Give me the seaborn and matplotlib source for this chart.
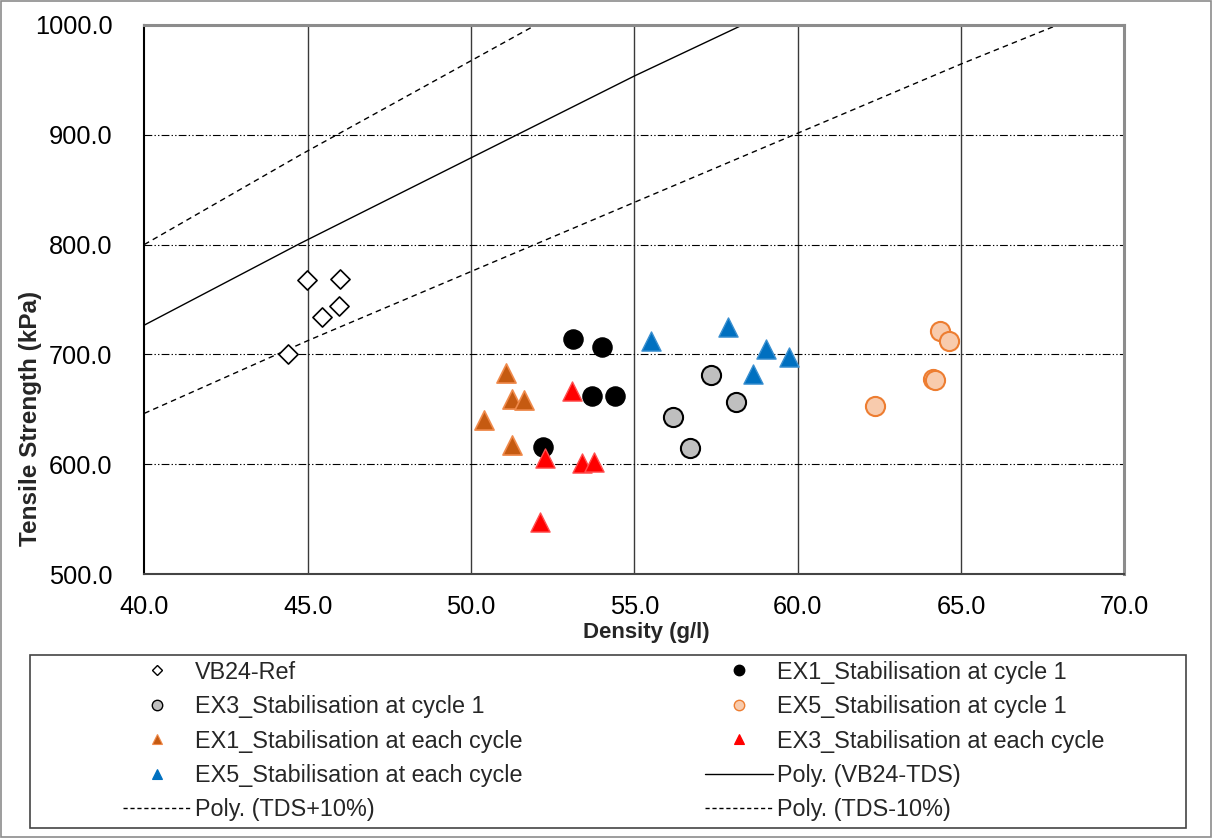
import numpy as np
import pandas as pd
import matplotlib
matplotlib.use("Agg")
import matplotlib.pyplot as plt
import seaborn as sns
from matplotlib.lines import Line2D
from matplotlib.patches import Rectangle
from matplotlib.ticker import FormatStrFormatter, MultipleLocator

# ---------------- data ----------------
vb24_x = [44.98, 45.99, 45.45, 45.97, 44.41]
vb24_y = [767.7, 768.6, 734.3, 744.3, 700.4]

ex1_c1_x = [53.13, 54.00, 53.71, 54.41, 52.21]
ex1_c1_y = [713.7, 707.0, 662.1, 662.1, 615.5]

ex3_c1_x = [57.35, 58.12, 56.18, 56.69]
ex3_c1_y = [681.0, 657.0, 643.0, 615.1]

ex5_c1_x = [64.36, 64.63, 64.13, 64.20, 62.36]
ex5_c1_y = [721.0, 711.9, 677.6, 677.0, 653.3]

ex1_each_x = [51.06, 51.26, 51.63, 50.41, 51.25]
ex1_each_y = [682.8, 659.4, 658.5, 640.3, 617.6]

ex3_each_x = [53.10, 52.27, 53.39, 53.77, 52.11]
ex3_each_y = [667.0, 606.0, 601.5, 602.4, 547.8]

ex5_each_x = [55.50, 57.88, 59.02, 59.74, 58.64]
ex5_each_y = [712.5, 725.2, 704.6, 697.9, 682.2]

# trend lines
tds_x = [40.0, 44.77, 55.0, 58.33]
tds_y = [726.7, 801.0, 953.3, 1000.0]
tds_plus_x = [40.0, 44.77, 52.0]
tds_plus_y = [800.0, 881.4, 1000.0]
tds_minus_x = [40.0, 45.0, 65.0, 67.98]
tds_minus_y = [646.4, 712.5, 964.2, 1000.0]

labels = ["VB24-Ref", "EX1_Stabilisation at cycle 1", "EX3_Stabilisation at cycle 1",
          "EX5_Stabilisation at cycle 1", "EX1_Stabilisation at each cycle",
          "EX3_Stabilisation at each cycle", "EX5_Stabilisation at each cycle",
          "Poly. (VB24-TDS)", "Poly. (TDS+10%)", "Poly. (TDS-10%)"]

# ---------------- style ----------------
sns.set_theme(style="white")
plt.rcParams['font.family'] = ['Liberation Sans', 'DejaVu Sans']

W, H = 1212, 838
fig = plt.figure(figsize=(W / 100, H / 100), dpi=100)
ax_l, ax_r, ax_t, ax_b = 144.3, 1124.3, 24.7, 574.3
ax = fig.add_axes([ax_l / W, 1 - ax_b / H, (ax_r - ax_l) / W, (ax_b - ax_t) / H])

# grid
for gx in [45, 50, 55, 60, 65]:
    ax.axvline(gx, color='#3a3a3a', lw=1.0, zorder=0)
for gy in [600, 700, 800, 900]:
    ax.axhline(gy, color='black', lw=0.8, dashes=(7, 2, 1.2, 2, 1.2, 2), zorder=0)

# trend lines
def trend(xs, ys, ls):
    df = pd.DataFrame({'x': xs, 'y': ys})
    sns.lineplot(data=df, x='x', y='y', ax=ax, color='black', lw=1.0, sort=False,
                 estimator=None, linestyle=ls, zorder=1)

trend(tds_x, tds_y, '-')
trend(tds_plus_x, tds_plus_y, (0, (4, 3)))
trend(tds_minus_x, tds_minus_y, (0, (4, 3)))

ms = 190
def scat(xs, ys, marker, fc, ec, lw, s=ms):
    sns.scatterplot(x=xs, y=ys, ax=ax, marker=marker, s=s, color=fc,
                    edgecolor=ec, linewidth=lw, zorder=3)

scat(vb24_x, vb24_y, 'D', 'white', 'black', 1.2, s=95)
scat(ex1_each_x, ex1_each_y, '^', '#C55A11', '#F08A4B', 1.2)
scat(ex1_c1_x, ex1_c1_y, 'o', 'black', 'black', 1.0)
scat(ex3_each_x, ex3_each_y, '^', '#FF0000', '#FF5050', 1.0)
scat(ex3_c1_x, ex3_c1_y, 'o', '#BFBFBF', 'black', 1.5)
scat(ex5_each_x, ex5_each_y, '^', '#0070C0', '#3A8FD0', 1.0)
scat(ex5_c1_x, ex5_c1_y, 'o', '#F8CBAD', '#ED7D31', 1.5)

ax.set_xlim(40, 70)
ax.set_ylim(500, 1000)
ax.xaxis.set_major_locator(MultipleLocator(5))
ax.yaxis.set_major_locator(MultipleLocator(100))
ax.xaxis.set_major_formatter(FormatStrFormatter('%.1f'))
ax.yaxis.set_major_formatter(FormatStrFormatter('%.1f'))
ax.tick_params(axis='both', which='major', labelsize=18.3, direction='out',
               length=7, width=1.0, color='black', labelcolor='black')
ax.tick_params(axis='x', pad=8)
ax.tick_params(axis='y', pad=16)
ax.set_xlabel("Density (g/l)", fontsize=16, fontweight='bold')
ax.set_ylabel("Tensile Strength (kPa)", fontsize=17.5, fontweight='bold')
ax.xaxis.label.set_va('center')
ax.yaxis.label.set_va('center')
ax.xaxis.set_label_coords((646 - ax_l) / (ax_r - ax_l), -(632 - ax_b) / (ax_b - ax_t))
ax.yaxis.set_label_coords((30.5 - ax_l) / (ax_r - ax_l), (ax_b - 418.5) / (ax_b - ax_t))

for side in ['top', 'right']:
    ax.spines[side].set_color('#8c8c8c')
    ax.spines[side].set_linewidth(2.2)
ax.spines['left'].set_color('black')
ax.spines['left'].set_linewidth(1.5)
ax.spines['bottom'].set_color('#444444')
ax.spines['bottom'].set_linewidth(1.5)
for s in ax.spines.values():
    s.set_visible(True)

# ---------------- legend ----------------
lms = 7.5
h_vb = Line2D([], [], ls='none', marker='D', ms=5.5, mfc='white', mec='black', mew=1.0)
h_e1c = Line2D([], [], ls='none', marker='o', ms=lms, mfc='black', mec='black')
h_e3c = Line2D([], [], ls='none', marker='o', ms=lms, mfc='#BFBFBF', mec='black', mew=1.0)
h_e5c = Line2D([], [], ls='none', marker='o', ms=lms, mfc='#F8CBAD', mec='#ED7D31', mew=1.0)
h_e1e = Line2D([], [], ls='none', marker='^', ms=lms, mfc='#C55A11', mec='#F08A4B', mew=0.8)
h_e3e = Line2D([], [], ls='none', marker='^', ms=lms, mfc='#FF0000', mec='#FF0000', mew=0.8)
h_e5e = Line2D([], [], ls='none', marker='^', ms=lms, mfc='#0070C0', mec='#0070C0', mew=0.8)
h_tds = Line2D([], [], color='black', lw=1.0)
h_tp = Line2D([], [], color='black', lw=1.0, linestyle=(0, (3, 2)))
h_tm = Line2D([], [], color='black', lw=1.0, linestyle=(0, (3, 2)))

col1 = [(h_vb, labels[0]), (h_e3c, labels[2]), (h_e1e, labels[4]), (h_e5e, labels[6]), (h_tp, labels[8])]
col2 = [(h_e1c, labels[1]), (h_e5c, labels[3]), (h_e3e, labels[5]), (h_tds, labels[7]), (h_tm, labels[9])]

lfs = 16.8
common = dict(frameon=False, fontsize=lfs, handlelength=2.9, handletextpad=0.17,
              labelspacing=0.49, borderpad=0, borderaxespad=0, loc='center left')
leg1 = fig.legend([h for h, _ in col1], [l for _, l in col1],
                  bbox_to_anchor=(123 / W, 1 - 741 / H), **common)
leg2 = fig.legend([h for h, _ in col2], [l for _, l in col2],
                  bbox_to_anchor=(705 / W, 1 - 741 / H), **common)

fig.patches.append(Rectangle((30 / W, 1 - 828 / H), (1186 - 30) / W, (828 - 655) / H,
                             transform=fig.transFigure, fill=False, edgecolor='#444444',
                             lw=1.2))
fig.patches.append(Rectangle((1 / W, 1 / H), (W - 2) / W, (H - 2) / H,
                             transform=fig.transFigure, fill=False, edgecolor='#8c8c8c',
                             lw=1.2))

fig.savefig("out.png", dpi=100)
